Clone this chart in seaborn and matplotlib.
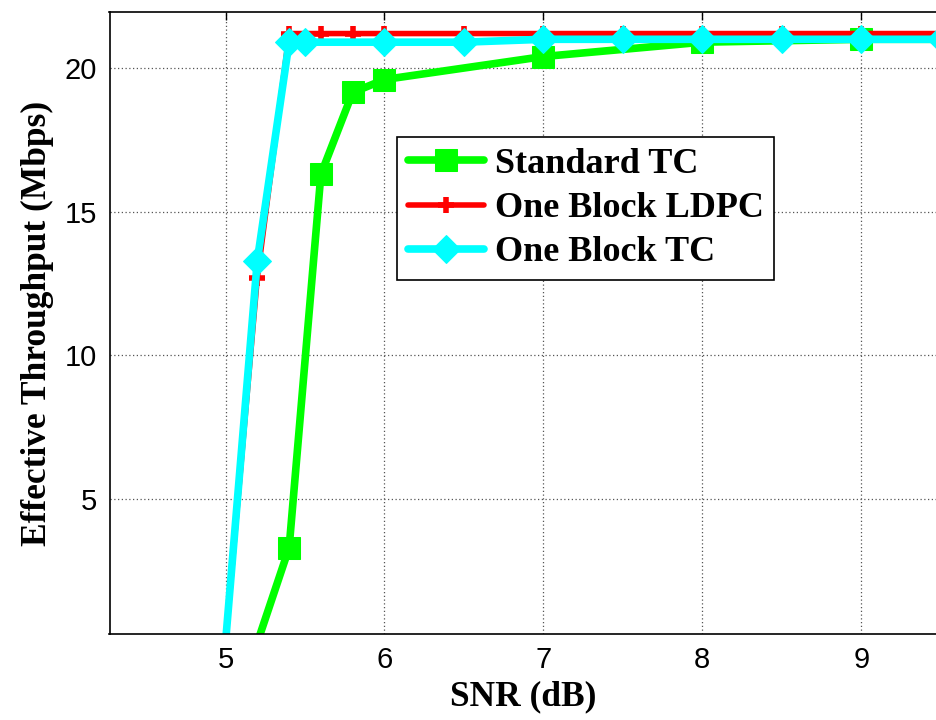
import matplotlib
matplotlib.use("Agg")
import matplotlib.pyplot as plt
import seaborn as sns

# ── Data ──────────────────────────────────────────────────────────────────────
snr_std = [5.2, 5.4, 5.6, 5.8, 6.0, 7.0, 8.0, 9.0, 10.0]
thr_std = [0.0, 3.3, 16.3, 19.15, 19.6, 20.4, 20.9, 21.0, 21.0]

snr_ldpc = [5.0, 5.2, 5.4, 5.6, 5.8, 6.0, 6.5, 7.0, 7.5, 8.0, 8.5, 9.0, 9.5, 10.0]
thr_ldpc = [0.0, 12.7, 21.2, 21.2, 21.2, 21.2, 21.2, 21.2, 21.2, 21.2, 21.2, 21.2, 21.2, 21.2]

snr_obtc = [5.0, 5.2, 5.4, 5.5, 6.0, 6.5, 7.0, 7.5, 8.0, 8.5, 9.0, 9.5, 10.0]
thr_obtc = [0.0, 13.3, 20.9, 20.9, 20.9, 20.9, 21.0, 21.0, 21.0, 21.0, 21.0, 21.0, 21.0]

labels = ["Standard TC", "One Block LDPC", "One Block TC"]
x_ticks = [5, 6, 7, 8, 9]
y_ticks = [5, 10, 15, 20]

# ── Plot ──────────────────────────────────────────────────────────────────────
sns.set_style("white")
plt.rcParams["text.color"] = "black"
plt.rcParams["axes.labelcolor"] = "black"
serif_bold = {"family": "Liberation Serif", "weight": "bold"}

fig = plt.figure(figsize=(9.36, 7.2), dpi=100)
ax = fig.add_axes([109.5 / 936, 86 / 720, (936 - 109.5) / 936, 622 / 720])

# first point of each curve sits below the visible range: no marker there
sns.lineplot(x=snr_std, y=thr_std, ax=ax, color="#00ff00", lw=5.5,
             marker="s", ms=16, mec="#00ff00", label=labels[0], sort=False,
             markevery=list(range(1, len(snr_std))))
sns.lineplot(x=snr_ldpc, y=thr_ldpc, ax=ax, color="#ff0000", lw=4,
             marker="+", ms=11, mew=4, mec="#ff0000", label=labels[1], sort=False,
             markevery=list(range(1, len(snr_ldpc))))
sns.lineplot(x=snr_obtc, y=thr_obtc, ax=ax, color="#00ffff", lw=5.5,
             marker="D", ms=14, mec="#00ffff", label=labels[2], sort=False,
             markevery=list(range(1, len(snr_obtc))))

ax.set_xlim(4.27, 9.47)
ax.set_ylim(0.3, 21.95)
ax.set_xticks(x_ticks)
ax.set_yticks(y_ticks)
ax.grid(True, color="#555555", ls=(0, (1, 2)), lw=0.9)
ax.tick_params(direction="in", length=6, width=1, top=True, pad=9,
               labelsize=21, colors="black")
for t in ax.get_xticklabels() + ax.get_yticklabels():
    t.set_family("Liberation Sans")
for side in ["left", "bottom", "top"]:
    ax.spines[side].set_color("black")
    ax.spines[side].set_linewidth(1.2)
ax.spines["right"].set_visible(False)

ax.set_xlabel("SNR (dB)", fontsize=25.5, labelpad=4, color="black", **serif_bold)
ax.set_ylabel("Effective Throughput (Mbps)", fontsize=25.5, labelpad=8,
              color="black", **serif_bold)

leg = ax.legend(loc="upper left", bbox_to_anchor=(0.348, 0.799), borderaxespad=0,
                prop={"family": "Liberation Serif", "weight": "bold", "size": 26},
                handlelength=2.1, fancybox=False, framealpha=1,
                edgecolor="black", labelspacing=0.3, borderpad=0.3,
                handletextpad=0.3)
leg.get_frame().set_linewidth(1.2)
for txt in leg.get_texts():
    txt.set_color("black")

fig.savefig("out.png", dpi=100)
